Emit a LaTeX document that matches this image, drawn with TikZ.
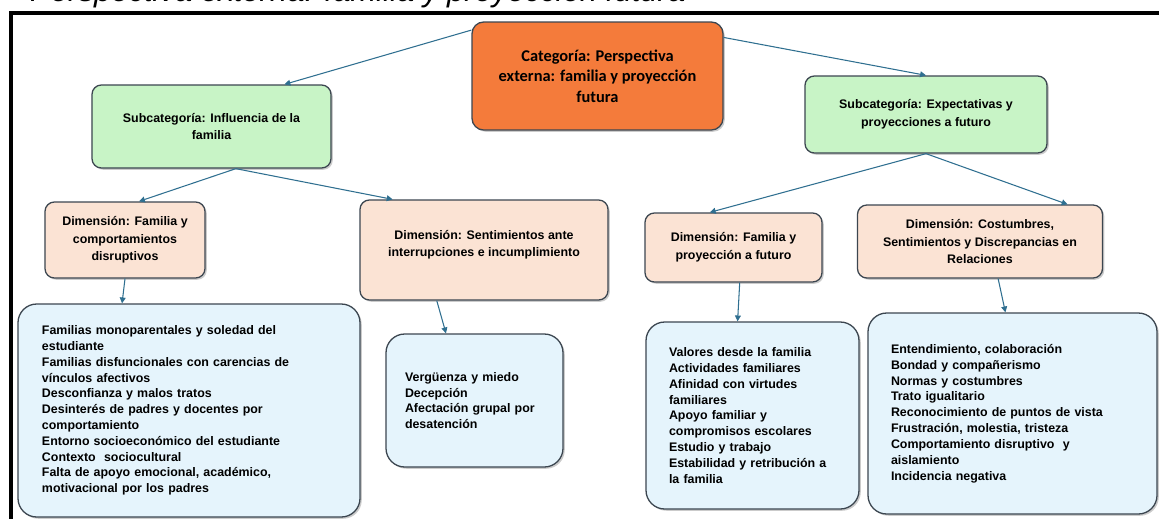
\documentclass[tikz,border=0pt]{standalone}
\usepackage{fontspec}
\setmainfont{Liberation Sans}
\newfontfamily\catfont{Carlito}
\usetikzlibrary{arrows.meta, shadows}

\definecolor{catorange}{HTML}{F47B3B}
\definecolor{subgreen}{HTML}{C8F4C6}
\definecolor{dimpeach}{HTML}{FBE3D4}
\definecolor{leafblue}{HTML}{E5F4FC}
\definecolor{linkblue}{HTML}{2F6F90}
\definecolor{edgegray}{HTML}{3C4650}

\begin{document}
\begin{tikzpicture}[
    x=0.03cm, y=-0.03cm,
    >={Triangle[length=5pt,width=5pt]},
    box/.style={draw=edgegray, line width=1.1pt, rounded corners=8pt,
                align=center, inner sep=0pt,
                font=\bfseries\fontsize{10.6}{15}\selectfont,
                drop shadow={shadow xshift=1.5pt, shadow yshift=-1.5pt,
                             fill=black!40}},
    cat/.style={box, fill=catorange, rounded corners=10pt,
                font=\catfont\bfseries\fontsize{14}{17.5}\selectfont},
    sub/.style={box, fill=subgreen},
    dim/.style={box, fill=dimpeach},
    leaf/.style={box, fill=leafblue, align=left, rounded corners=16pt,
                 font=\bfseries\fontsize{10.6}{13.5}\selectfont},
    link/.style={->, draw=linkblue, line width=0.9pt}
  ]
  \useasboundingbox (0,0) rectangle (1159,518);
  \fill[white] (0,0) rectangle (1159,518);

  % caption cut at the top, and the frame
  \node[anchor=base west, inner sep=0pt,
        font=\itshape\fontsize{26.5}{30}\selectfont] (title) at (30,1.5)
       {Perspectiva externa: familia y proyección futura};
  \draw[line width=2.6pt] (11,520) -- (11,13) -- (1162,13);

  % category and subcategories
  \node[cat, minimum width=7.53cm, minimum height=3.24cm] (cat) at (597.5,76)
       {Categoría: Perspectiva\\ externa: familia y proyección\\ futura};
  \node[sub, minimum width=7.17cm, minimum height=2.49cm] (subL) at (211.5,126.5)
       {Subcategoría: Influencia de la\\ familia};
  \node[sub, minimum width=7.26cm, minimum height=2.31cm] (subR) at (926,114.5)
       {Subcategoría: Expectativas y\\ proyecciones a futuro};

  % dimensions
  \node[dim, minimum width=4.8cm, minimum height=2.28cm] (dimA) at (125,240)
       {Dimensión: Familia y\\ comportamientos\\ disruptivos};
  \node[dim, minimum width=7.44cm, minimum height=3cm, text depth=11pt]
       (dimB) at (484,250)
       {Dimensión: Sentimientos ante\\ interrupciones e incumplimiento};
  \node[dim, minimum width=5.31cm, minimum height=2.07cm] (dimC) at (733.5,247.5)
       {Dimensión: Familia y\\ proyección a futuro};
  \node[dim, minimum width=7.35cm, minimum height=2.19cm] (dimD) at (980,241.5)
       {Dimensión: Costumbres,\\ Sentimientos y Discrepancias en\\ Relaciones};

  % codes
  \node[leaf, inner xsep=0.72cm, text width=8.82cm, minimum height=6.39cm]
       (leafA) at (189,410.5)
       {Familias monoparentales y soledad del\\ estudiante\\
        Familias disfuncionales con carencias de\\ vínculos afectivos\\
        Desconfianza y malos tratos\\
        Desinterés de padres y docentes por\\ comportamiento\\
        Entorno socioeconómico del estudiante\\
        Contexto\ \ sociocultural\\
        Falta de apoyo emocional, académico,\\ motivacional por los padres};
  \node[leaf, inner xsep=0.57cm, text width=4.17cm, minimum height=3.99cm]
       (leafB) at (474.5,400.5)
       {Vergüenza y miedo\\ Decepción\\ Afectación grupal por\\ desatención};
  \node[leaf, inner xsep=0.69cm, text width=5.01cm, minimum height=5.61cm]
       (leafC) at (752.5,415.5)
       {Valores desde la familia\\ Actividades familiares\\
        Afinidad con virtudes\\ familiares\\
        Apoyo familiar y\\ compromisos escolares\\
        Estudio y trabajo\\
        Estabilidad y retribución a\\ la familia};
  \node[leaf, inner xsep=0.69cm, text width=7.29cm, minimum height=6.03cm]
       (leafD) at (1012.5,413.5)
       {Entendimiento, colaboración\\ Bondad y compañerismo\\
        Normas y costumbres\\ Trato igualitario\\
        Reconocimiento de puntos de vista\\
        Frustración, molestia, tristeza\\
        Comportamiento disruptivo\ \ y\\ aislamiento\\
        Incidencia negativa};

  \draw[link] (cat.160) -- (subL.30);
  \draw[link] (cat.17) -- (subR.north);
  \draw[link] (subL.-60) -- (dimA.70);
  \draw[link] (subL.-60) -- (dimB.151);
  \draw[link] (subR.south) -- (dimC.124);
  \draw[link] (subR.south) -- (dimD.23);
  \draw[link] (dimA.south) -- (leafA.122);
  \draw[link] (dimB.227) -- (leafB.113);
  \draw[link] (dimC.-80) -- (leafC.99);
  \draw[link] (dimD.-64) -- (leafD.94);
\end{tikzpicture}
\end{document}
